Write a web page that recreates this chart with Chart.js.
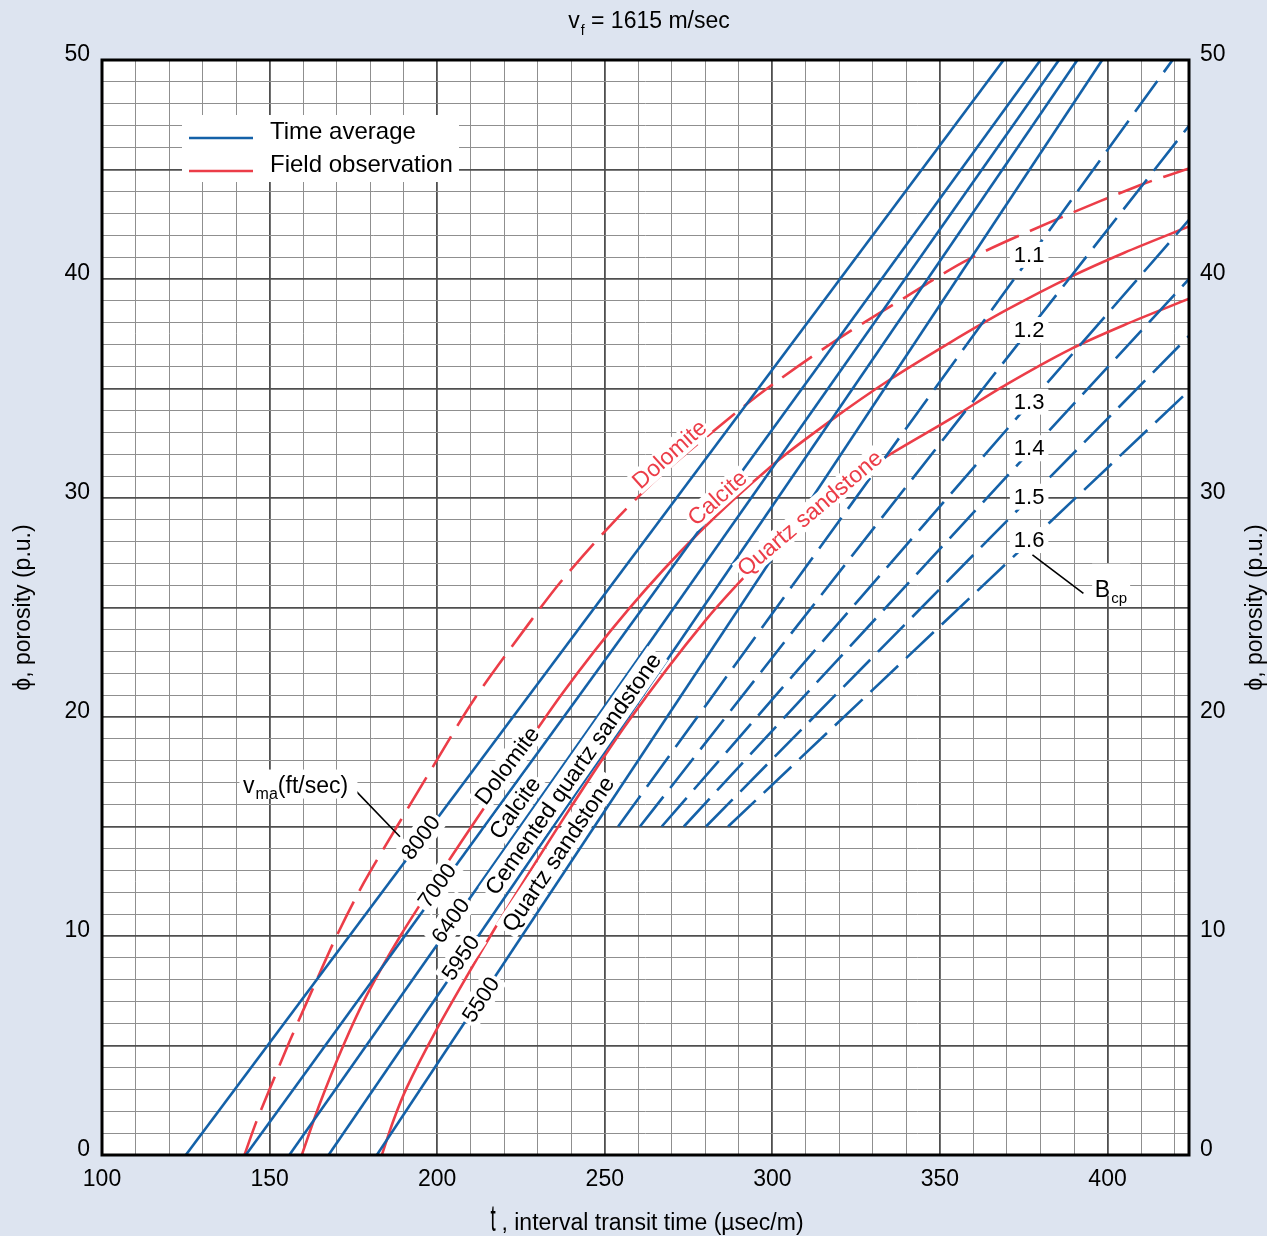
<!DOCTYPE html>
<html>
<head>
<meta charset="utf-8">
<script src="https://cdn.jsdelivr.net/npm/chart.js@4.4.1/dist/chart.umd.min.js"></script>
<style>
  html, body { margin: 0; padding: 0; background: #dde4f0; }
  #chart { display: block; }
</style>
</head>
<body>
<canvas id="chart" width="1267" height="1236"></canvas>
<script>
const FONT = '"Liberation Sans", Arial, Helvetica, sans-serif';

// time average lines, one per matrix velocity (ft/sec)
const vmaLabels = ['8000', '7000', '6400', '5950', '5500'];
const tAtZero = [125.0, 142.9, 155.9, 167.6, 182.0];
const tAtFifty = [369.0, 380.0, 385.5, 391.0, 398.4];

// compaction corrected sandstone lines (dashed), they start on the 15 p.u. line
const bcpLabels = ['1.1', '1.2', '1.3', '1.4', '1.5', '1.6'];
const bcpStartT = [254.0, 260.5, 267.0, 273.6, 280.2, 286.8];
const bcpStartPhi = [15, 15, 15, 15, 15, 15];
const bcpEndT = [419.4, 424.3, 424.3, 424.3, 424.3, 424.3];
const bcpEndPhi = [50.0, 47.0, 42.7, 40.0, 37.4, 34.9];

// field observation curves
const dolomiteT = [142.5, 146, 150, 156, 163.5, 170, 178, 188, 199, 211, 228, 237, 252, 266.5, 290, 302, 320, 340, 358.5, 386, 410, 424.3];
const dolomitePhi = [0, 1.5, 3.0, 5.2, 7.8, 10.0, 12.4, 15.0, 17.8, 20.8, 24.4, 26.2, 28.8, 31.0, 34.0, 35.4, 37.3, 39.2, 40.9, 42.8, 44.3, 45.05];
const calciteT = [159.6, 165, 172, 179, 189, 202, 216, 237, 257, 278, 300, 318, 335, 353, 370, 389, 405, 424.3];
const calcitePhi = [0, 2.35, 5.0, 7.3, 10.0, 13.1, 16.3, 21.0, 24.9, 28.4, 31.5, 33.6, 35.4, 37.1, 38.6, 40.1, 41.2, 42.4];
const sandT = [183.5, 187, 191, 199, 209, 219, 237, 257, 280, 298, 312, 330, 353, 370, 389, 405, 424.3];
const sandPhi = [0, 1.6, 3.1, 5.5, 8.2, 10.8, 15.2, 19.8, 24.4, 27.4, 29.4, 31.5, 33.6, 35.2, 36.8, 37.9, 39.1];

const xTicks = [100, 150, 200, 250, 300, 350, 400];
const yTicks = [0, 10, 20, 30, 40, 50];

const legendLabels = ['Time average', 'Field observation'];

const blue = '#1461a8';
const red = '#ec3d48';

function pts(t, phi) {
  return t.map((v, i) => ({ x: v, y: phi[i] }));
}

const datasets = [];
vmaLabels.forEach((lab, i) => {
  datasets.push({
    label: 'Time average ' + lab,
    data: pts([tAtZero[i], tAtFifty[i]], [0, 50]),
    borderColor: blue,
    borderWidth: 2.6
  });
});
bcpLabels.forEach((lab, i) => {
  datasets.push({
    label: 'Bcp ' + lab,
    data: pts([bcpStartT[i], bcpEndT[i]], [bcpStartPhi[i], bcpEndPhi[i]]),
    borderColor: blue,
    borderWidth: 2.6,
    borderDash: [38, 11]
  });
});
datasets.push({
  label: 'Dolomite (field)',
  data: pts(dolomiteT, dolomitePhi),
  borderColor: red, borderWidth: 2.6, borderDash: [36, 12],
  tension: 0.3
});
datasets.push({
  label: 'Calcite (field)',
  data: pts(calciteT, calcitePhi),
  borderColor: red, borderWidth: 2.6,
  tension: 0.3
});
datasets.push({
  label: 'Quartz sandstone (field)',
  data: pts(sandT, sandPhi),
  borderColor: red, borderWidth: 2.6,
  tension: 0.3
});

function boxText(ctx, str, x, y, deg, color, size, padX, padY) {
  ctx.save();
  ctx.translate(x, y);
  ctx.rotate(-deg * Math.PI / 180);
  ctx.font = size + 'px ' + FONT;
  const w = ctx.measureText(str).width;
  ctx.fillStyle = '#fff';
  ctx.fillRect(-w / 2 - padX, -size / 2 - padY, w + 2 * padX, size + 2 * padY);
  ctx.fillStyle = color;
  ctx.textAlign = 'center';
  ctx.textBaseline = 'middle';
  ctx.fillText(str, 0, 1);
  ctx.restore();
}

// text with one subscript part: [main, sub, rest]
function subText(ctx, parts, x, y, size, subSize, align) {
  ctx.save();
  ctx.textBaseline = 'alphabetic';
  ctx.textAlign = 'left';
  ctx.font = size + 'px ' + FONT;
  const w0 = ctx.measureText(parts[0]).width;
  const w2 = ctx.measureText(parts[2]).width;
  ctx.font = subSize + 'px ' + FONT;
  const w1 = ctx.measureText(parts[1]).width;
  const total = w0 + w1 + w2;
  const x0 = align === 'center' ? x - total / 2 : x;
  ctx.fillStyle = '#000';
  ctx.font = size + 'px ' + FONT;
  ctx.fillText(parts[0], x0, y);
  ctx.font = subSize + 'px ' + FONT;
  ctx.fillText(parts[1], x0 + w0 + 1, y + size * 0.3);
  ctx.font = size + 'px ' + FONT;
  ctx.fillText(parts[2], x0 + w0 + w1 + 1, y);
  ctx.restore();
  return { left: x0, width: total };
}

const sketch = {
  id: 'sketch',
  beforeDraw(chart) {
    const { ctx, chartArea: a } = chart;
    ctx.save();
    ctx.fillStyle = '#dde4f0';
    ctx.fillRect(0, 0, chart.width, chart.height);
    ctx.fillStyle = '#fff';
    ctx.fillRect(a.left, a.top, a.right - a.left, a.bottom - a.top);
    ctx.restore();
  },
  afterDatasetsDraw(chart) {
    const { ctx, chartArea: a } = chart;
    const X = v => chart.scales.x.getPixelForValue(v);
    const Y = v => chart.scales.y.getPixelForValue(v);

    // velocity numbers on the time average lines
    const numTags = [[195.1, 14.5, 53.3], [200.0, 12.3, 54.0], [204.0, 10.7, 54.9], [207.0, 9.0, 55.6], [213.0, 7.1, 56.5]];
    vmaLabels.forEach((lab, i) => {
      const p = numTags[i];
      boxText(ctx, lab, X(p[0]), Y(p[1]), p[2], '#000', 22, 3, 2);
    });

    // lithology names
    boxText(ctx, 'Dolomite', X(220.9), Y(17.78), 53, '#000', 23, 3, 1);
    boxText(ctx, 'Calcite', X(223.2), Y(15.85), 54, '#000', 23, 3, 1);
    boxText(ctx, 'Cemented quartz sandstone', X(240.6), Y(17.4), 55, '#000', 23, 3, 1);
    boxText(ctx, 'Quartz sandstone', X(236.1), Y(13.74), 56, '#000', 23, 3, 1);

    boxText(ctx, 'Dolomite', X(269.3), Y(32.0), 41.8, red, 23, 2, 0);
    boxText(ctx, 'Calcite', X(283.6), Y(30.0), 41.7, red, 23, 2, 0);
    boxText(ctx, 'Quartz sandstone', X(311.2), Y(29.3), 40.2, red, 23, 2, 0);

    // Bcp values
    const bcpTagPhi = [41.1, 37.67, 34.4, 32.27, 30.06, 28.08];
    bcpLabels.forEach((lab, i) => {
      boxText(ctx, lab, X(376.6), Y(bcpTagPhi[i]), 0, '#000', 22, 4, 2);
    });

    ctx.save();
    ctx.strokeStyle = '#000';
    ctx.lineWidth = 1.6;
    ctx.beginPath();
    ctx.moveTo(X(377.6), Y(27.4));
    ctx.lineTo(X(392.8), Y(25.65));
    ctx.moveTo(X(175.0), Y(16.74));
    ctx.lineTo(X(188.9), Y(14.53));
    ctx.stroke();
    ctx.restore();

    // Bcp caption
    ctx.save();
    ctx.fillStyle = '#fff';
    ctx.fillRect(X(395.4), Y(27.0), 38, 32);
    ctx.restore();
    subText(ctx, ['B', 'cp', ''], X(396.2), Y(25.5), 23, 15, 'left');

    // vma caption
    ctx.save();
    ctx.fillStyle = '#fff';
    ctx.fillRect(X(141.0), Y(17.6), 118, 29);
    ctx.restore();
    subText(ctx, ['v', 'ma', '(ft/sec)'], X(142.1), Y(16.55), 23, 16, 'left');

    // legend
    const lx = a.left + 80, ly = a.top + 55;
    ctx.save();
    ctx.fillStyle = '#fff';
    ctx.fillRect(lx, ly, 277, 67);
    [blue, red].forEach((c, i) => {
      ctx.strokeStyle = c;
      ctx.lineWidth = 2.6;
      ctx.beginPath();
      ctx.moveTo(lx + 7, ly + 23 + i * 33);
      ctx.lineTo(lx + 71, ly + 23 + i * 33);
      ctx.stroke();
      ctx.fillStyle = '#000';
      ctx.font = '24px ' + FONT;
      ctx.textBaseline = 'middle';
      ctx.fillText(legendLabels[i], lx + 88, ly + 17 + i * 33);
    });
    ctx.restore();

    // frame
    ctx.save();
    ctx.strokeStyle = '#000';
    ctx.lineWidth = 3;
    ctx.strokeRect(a.left, a.top, a.right - a.left, a.bottom - a.top);
    ctx.restore();

    // title
    subText(ctx, ['v', 'f', ' = 1615 m/sec'], (a.left + a.right) / 2 + 3, 28, 23, 14, 'center');

    // axis titles
    ctx.save();
    ctx.fillStyle = '#000';
    ctx.font = '23px ' + FONT;
    ctx.textAlign = 'center';
    ctx.textBaseline = 'middle';
    [24, 1256].forEach(x => {
      ctx.save();
      ctx.translate(x, (a.top + a.bottom) / 2);
      ctx.rotate(-Math.PI / 2);
      ctx.fillText('\u03d5, porosity (p.u.)', 0, 0);
      ctx.restore();
    });
    ctx.restore();

    ctx.save();
    ctx.fillStyle = '#000';
    ctx.textBaseline = 'alphabetic';
    ctx.font = '23px ' + FONT;
    const rest = ', interval transit time (\u00b5sec/m)';
    const wr = ctx.measureText(rest).width;
    const x0 = (a.left + a.right) / 2 + 3 - (wr + 10) / 2;
    ctx.save();
    ctx.translate(x0 - 2, 1231);
    ctx.scale(0.75, 1.5);
    ctx.font = '25px ' + FONT;
    ctx.fillText('t', 0, 0);
    ctx.restore();
    ctx.fillText(rest, x0 + 9, 1230);
    ctx.restore();
  }
};

const major = '#4f4f4f';
const minor = '#8f8f8f';

const config = {
  type: 'scatter',
  data: { datasets },
  options: {
    responsive: false,
    animation: false,
    devicePixelRatio: 1,
    showLine: true,
    elements: { point: { radius: 0, hoverRadius: 0 }, line: { tension: 0 } },
    layout: { padding: { top: 60, left: 0, right: 0, bottom: 0 } },
    plugins: { legend: { display: false }, tooltip: { enabled: false } },
    scales: {
      x: {
        type: 'linear', min: 100, max: 424.3,
        afterFit: s => { s.height = 81; },
        border: { display: false },
        grid: {
          drawTicks: false,
          color: c => (c.tick && c.tick.value % 50 === 0) ? major : minor,
          lineWidth: c => (c.tick && c.tick.value % 50 === 0) ? 1.8 : 1
        },
        ticks: {
          stepSize: 10, includeBounds: false, autoSkip: false, maxRotation: 0,
          padding: 11, color: '#000', font: { family: FONT, size: 23 },
          callback: v => xTicks.includes(v) ? String(v) : ''
        }
      },
      y: {
        type: 'linear', position: 'left', min: 0, max: 50,
        afterFit: s => { s.width = 102; },
        border: { display: false },
        grid: {
          drawTicks: false,
          color: c => (c.tick && c.tick.value % 5 === 0) ? major : minor,
          lineWidth: c => (c.tick && c.tick.value % 5 === 0) ? 1.8 : 1
        },
        ticks: {
          stepSize: 1, autoSkip: false, padding: 12, labelOffset: -5, color: '#000',
          font: { family: FONT, size: 23 },
          callback: v => yTicks.includes(v) ? String(v) : ''
        }
      },
      y2: {
        type: 'linear', position: 'right', min: 0, max: 50,
        afterFit: s => { s.width = 78; },
        border: { display: false },
        grid: { display: false, drawTicks: false },
        ticks: {
          stepSize: 1, autoSkip: false, padding: 11, labelOffset: -5, color: '#000',
          font: { family: FONT, size: 23 },
          callback: v => yTicks.includes(v) ? String(v) : ''
        }
      }
    }
  },
  plugins: [sketch]
};

const myChart = new Chart(document.getElementById('chart').getContext('2d'), config);
</script>
</body>
</html>
